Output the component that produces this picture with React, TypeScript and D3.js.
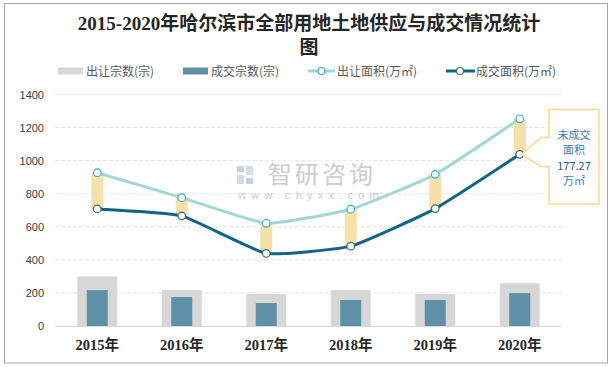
import React, { useRef, useEffect } from "react";
import * as d3 from "d3";

const years = ["2015年", "2016年", "2017年", "2018年", "2019年", "2020年"];
const supplyCount = [300, 217, 193, 217, 193, 259];
const dealCount = [217, 175, 139, 157, 157, 199];
const supplyArea = [927, 776, 621, 706, 917, 1253];
const dealArea = [708, 666, 439, 483, 710, 1038];
const yTicks = [0, 200, 400, 600, 800, 1000, 1200, 1400];
const calloutLines = ["未成交", "面积", "177.27", "万㎡"];

const W = 613;
const H = 367;
const CJK = '"Noto Sans CJK SC", "Noto Sans", sans-serif';
const SERIF = '"Liberation Serif", "DejaVu Serif", "Noto Sans CJK SC", serif';

const App = () => {
  const ref = useRef<SVGSVGElement>(null);

  useEffect(() => {
    if (!ref.current) return;
    const svg = d3.select(ref.current);
    svg.selectAll("*").remove();
    svg.attr("width", W).attr("height", H);

    // outer border
    svg.append("rect")
      .attr("x", 4.5).attr("y", 3.5)
      .attr("width", 603).attr("height", 359.5)
      .attr("fill", "#fff").attr("stroke", "#a6a6a6");

    // title
    const title = svg.append("text")
      .attr("text-anchor", "middle")
      .attr("font-family", SERIF)
      .attr("font-weight", "bold")
      .attr("font-size", 19)
      .attr("fill", "#262626");
    title.append("tspan").attr("x", 309).attr("y", 30).text("2015-2020年哈尔滨市全部用地土地供应与成交情况统计");
    title.append("tspan").attr("x", 309).attr("y", 54).text("图");

    const x = d3.scaleBand<string>().domain(years).range([55, 562]);
    const y = d3.scaleLinear().domain([0, 1400]).range([326, 94.5]);
    const cx = (i: number) => (x(years[i]) as number) + x.bandwidth() / 2;

    // gridlines
    svg.append("g")
      .selectAll("line")
      .data(yTicks.slice(1))
      .enter()
      .append("line")
      .attr("x1", 55).attr("x2", 562)
      .attr("y1", (d) => y(d)).attr("y2", (d) => y(d))
      .attr("stroke", "#e6e6e6")
      .attr("stroke-dasharray", "4 2");

    // y axis labels
    const yAxis = svg.append("g")
      .attr("transform", "translate(55,0)")
      .call(d3.axisLeft(y).tickValues(yTicks).tickFormat(d3.format("d")).tickSize(0).tickPadding(11));
    yAxis.select(".domain").remove();
    yAxis.selectAll("text")
      .attr("font-family", '"Liberation Sans", "Noto Sans", sans-serif')
      .attr("font-size", 11)
      .attr("fill", "#404040");

    // watermark
    const wm = svg.append("g").attr("opacity", 0.8);
    wm.append("rect").attr("x", 237).attr("y", 166).attr("width", 7).attr("height", 6).attr("fill", "#b9c5da");
    wm.append("rect").attr("x", 246).attr("y", 166).attr("width", 7).attr("height", 9).attr("fill", "#c9d3e3");
    wm.append("rect").attr("x", 237).attr("y", 175).attr("width", 7).attr("height", 9).attr("fill", "#c9d3e3");
    wm.append("rect").attr("x", 246).attr("y", 178).attr("width", 7).attr("height", 6).attr("fill", "#b9c5da");
    wm.append("text")
      .attr("x", 268).attr("y", 183)
      .attr("font-family", CJK).attr("font-size", 24)
      .attr("letter-spacing", 3)
      .attr("fill", "#c2c2c2")
      .text("智研咨询");
    wm.append("text")
      .attr("x", 238).attr("y", 199)
      .attr("font-family", '"Liberation Sans", sans-serif').attr("font-size", 11)
      .attr("letter-spacing", 5.2)
      .attr("fill", "#c2c2c2")
      .text("www.chyxx.com");

    // bars
    const gw = 40;
    const bw = 21;
    svg.append("g").selectAll("rect")
      .data(supplyCount).enter().append("rect")
      .attr("x", (d, i) => cx(i) - gw / 2)
      .attr("y", (d) => y(d))
      .attr("width", gw)
      .attr("height", (d) => y(0) - y(d))
      .attr("fill", "#d7d7d7");
    svg.append("g").selectAll("rect")
      .data(dealCount).enter().append("rect")
      .attr("x", (d, i) => cx(i) - bw / 2)
      .attr("y", (d) => y(d))
      .attr("width", bw)
      .attr("height", (d) => y(0) - y(d))
      .attr("fill", "#5e90a7");

    // x axis line
    svg.append("line")
      .attr("x1", 55).attr("x2", 562)
      .attr("y1", y(0) + 0.5).attr("y2", y(0) + 0.5)
      .attr("stroke", "#d9d9d9");

    // x labels
    svg.append("g").selectAll("text")
      .data(years).enter().append("text")
      .attr("x", (d, i) => cx(i))
      .attr("y", 350)
      .attr("text-anchor", "middle")
      .attr("font-family", SERIF)
      .attr("font-weight", "bold")
      .attr("font-size", 14.5)
      .attr("fill", "#262626")
      .text((d) => d);

    // up-down bars
    svg.append("g").selectAll("rect")
      .data(supplyArea).enter().append("rect")
      .attr("x", (d, i) => cx(i) - 6)
      .attr("y", (d) => y(d))
      .attr("width", 12)
      .attr("height", (d, i) => y(dealArea[i]) - y(d))
      .attr("fill", "#f8e1a9");

    const line = d3.line<number>()
      .x((d, i) => cx(i))
      .y((d) => y(d))
      .curve(d3.curveCardinal.tension(0.6));

    svg.append("path").datum(supplyArea)
      .attr("d", line).attr("fill", "none")
      .attr("stroke", "#a1d8d4").attr("stroke-width", 3);
    svg.append("path").datum(dealArea)
      .attr("d", line).attr("fill", "none")
      .attr("stroke", "#0e6585").attr("stroke-width", 3);

    svg.append("g").selectAll("circle")
      .data(supplyArea).enter().append("circle")
      .attr("cx", (d, i) => cx(i)).attr("cy", (d) => y(d)).attr("r", 3.8)
      .attr("fill", "#fff").attr("stroke", "#3ea7dc").attr("stroke-width", 1.2);
    svg.append("g").selectAll("circle")
      .data(dealArea).enter().append("circle")
      .attr("cx", (d, i) => cx(i)).attr("cy", (d) => y(d)).attr("r", 3.8)
      .attr("fill", "#fff").attr("stroke", "#3a6a72").attr("stroke-width", 1.2);

    // legend
    const lg = svg.append("g")
      .attr("font-family", CJK).attr("font-size", 12).attr("fill", "#595959");
    const ly = 71;
    lg.append("rect").attr("x", 58).attr("y", ly - 3.5).attr("width", 25).attr("height", 7).attr("fill", "#d7d7d7");
    lg.append("text").attr("x", 86).attr("y", ly + 4.5).text("出让宗数(宗)");
    lg.append("rect").attr("x", 183).attr("y", ly - 3.5).attr("width", 25).attr("height", 7).attr("fill", "#5e90a7");
    lg.append("text").attr("x", 211).attr("y", ly + 4.5).text("成交宗数(宗)");
    lg.append("line").attr("x1", 308).attr("x2", 335).attr("y1", ly).attr("y2", ly).attr("stroke", "#a1d8d4").attr("stroke-width", 3);
    lg.append("circle").attr("cx", 321.5).attr("cy", ly).attr("r", 3.5).attr("fill", "#fff").attr("stroke", "#3ea7dc").attr("stroke-width", 1.2);
    lg.append("text").attr("x", 337).attr("y", ly + 4.5).text("出让面积(万㎡)");
    lg.append("line").attr("x1", 446).attr("x2", 475).attr("y1", ly).attr("y2", ly).attr("stroke", "#0e6585").attr("stroke-width", 3);
    lg.append("circle").attr("cx", 460).attr("cy", ly).attr("r", 3.5).attr("fill", "#fff").attr("stroke", "#3a6a72").attr("stroke-width", 1.2);
    lg.append("text").attr("x", 476).attr("y", ly + 4.5).text("成交面积(万㎡)");

    // callout
    const tipX = cx(5) + 2;
    const tipY = y(dealArea[5]);
    const bx0 = 549, bx1 = 599, by0 = 109.5, by1 = 204;
    const path = d3.path();
    path.moveTo(bx0, by0);
    path.lineTo(bx1, by0);
    path.lineTo(bx1, by1);
    path.lineTo(bx0, by1);
    path.lineTo(bx0, 166.5);
    path.lineTo(541, 166.5);
    path.lineTo(tipX, tipY);
    path.lineTo(541, 137.5);
    path.lineTo(bx0, 137.5);
    path.closePath();
    svg.append("path")
      .attr("d", path.toString())
      .attr("fill", "#fff")
      .attr("stroke", "#fbd68c")
      .attr("stroke-width", 1.5);
    svg.append("g").selectAll("text")
      .data(calloutLines).enter().append("text")
      .attr("x", (bx0 + bx1) / 2)
      .attr("y", (d, i) => 139 + i * 15.3)
      .attr("text-anchor", "middle")
      .attr("font-family", CJK)
      .attr("font-size", 11)
      .attr("fill", (d, i) => (i === 2 ? "#1f5b86" : "#3a7cb0"))
      .text((d) => d);
  }, []);

  return (
    <svg ref={ref} style={{ position: "absolute", left: 0, top: 0 }}></svg>
  );
};

export default App;
